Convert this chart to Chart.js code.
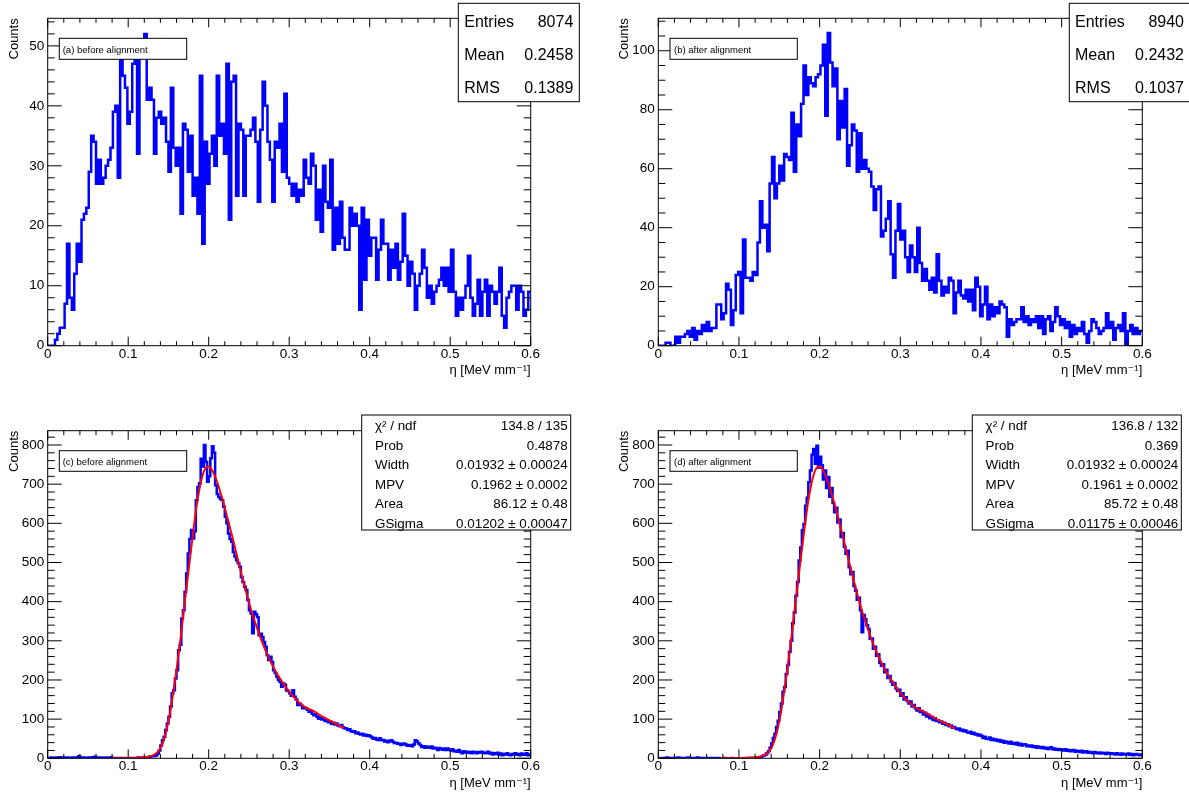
<!DOCTYPE html>
<html>
<head>
<meta charset="utf-8">
<script src="https://cdn.jsdelivr.net/npm/chart.js@4.4.1/dist/chart.umd.min.js"></script>
<style>
html,body{margin:0;padding:0;background:#fff;}
#wrap{position:relative;width:1189px;height:792px;overflow:hidden;background:#fff;}
#wrap canvas{position:absolute;}
</style>
</head>
<body>
<div id="wrap">
<canvas id="cA" width="594" height="396" style="left:0px;top:0px"></canvas>
<canvas id="cB" width="595" height="396" style="left:594px;top:0px"></canvas>
<canvas id="cC" width="594" height="396" style="left:0px;top:396px"></canvas>
<canvas id="cD" width="595" height="396" style="left:594px;top:396px"></canvas>
</div>
<script>
// ---------------- data ----------------
const X_MIN = 0, X_MAX = 0.6;
const BIN_AB = 0.003;   // 200 bins
const BIN_CD = 0.002;   // 300 bins
const xTitle = 'η [MeV mm⁻¹]';
const yTitle = 'Counts';

const countsA = [
  0,0,0,1,2,3,3,7,17,8,
  6,12,17,14,21,22,23,29,35,34,
  27,31,27,28,30,31,33,39,40,28,
  49,45,43,37,39,47,48,32,48,50,
  52,41,43,41,32,38,39,37,38,34,
  29,43,33,30,33,22,37,36,29,35,
  25,28,22,45,17,34,27,32,35,30,
  45,35,37,32,47,21,44,45,25,37,
  36,25,35,35,36,38,34,24,36,44,
  40,34,31,24,34,33,37,29,42,28,
  27,25,27,24,26,25,31,28,27,32,
  30,21,26,19,30,24,23,31,16,23,
  17,24,18,16,16,23,20,22,20,6,
  23,11,21,15,18,18,11,16,21,17,
  17,11,16,13,17,11,14,22,15,10,
  14,12,6,10,12,16,13,8,10,7,
  9,10,11,13,10,13,9,16,9,5,
  8,6,8,10,15,8,5,7,11,5,
  9,11,5,10,9,7,9,13,5,3,
  8,9,10,10,6,10,9,5,6,9
];

const countsB = [
  0,0,0,1,1,0,0,3,1,3,
  3,4,5,3,6,2,5,4,7,5,
  8,5,6,6,14,14,9,11,21,19,
  7,12,24,25,11,36,23,23,22,25,
  24,35,49,40,41,32,55,64,50,55,
  61,56,65,64,63,79,59,75,71,82,
  95,85,91,89,88,91,92,95,102,78,
  106,96,88,94,70,83,74,87,61,68,
  75,73,59,72,60,63,60,59,54,46,
  53,54,37,39,43,49,31,23,39,48,
  36,39,30,25,34,30,25,40,28,22,
  26,22,19,23,18,31,22,17,20,18,
  23,22,11,18,22,17,16,19,15,19,
  12,23,20,10,14,20,9,14,10,13,
  11,15,14,13,3,9,7,8,9,9,
  13,8,10,7,9,8,10,6,10,4,
  9,10,5,8,13,10,7,9,6,8,
  3,7,4,6,5,8,4,1,5,9,
  8,6,4,5,6,11,6,8,2,6,
  7,5,11,0,5,7,4,6,4,5
];

const countsC = [
  0,1,2,1,1,2,1,3,2,1,
  2,1,2,1,1,2,1,2,1,5,
  2,1,2,1,1,2,1,2,3,4,
  1,2,1,2,1,1,2,1,1,3,
  1,1,0,1,0,1,1,0,1,1,
  0,1,1,0,1,1,2,1,1,2,
  2,3,2,4,5,5,6,7,12,20,
  33,46,55,72,89,106,132,166,174,204,
  225,276,290,357,378,425,472,523,560,583,
  561,580,659,693,702,765,745,800,757,706,
  720,766,797,780,697,675,667,662,659,642,
  617,600,574,560,553,527,515,506,498,489,
  463,450,438,430,404,378,370,319,374,368,
  361,314,318,310,297,285,263,251,259,246,
  225,218,208,200,195,183,191,188,174,172,
  166,160,174,157,150,136,140,136,128,130,
  128,124,119,121,114,110,112,106,101,104,
  99,103,95,97,92,94,88,91,86,89,
  84,82,85,79,77,76,72,74,70,68,
  69,64,66,63,61,63,58,60,57,59,
  56,53,50,52,48,47,51,46,47,43,
  45,41,44,46,42,39,40,37,38,34,
  36,38,35,32,34,33,31,35,46,43,
  38,34,29,31,27,30,28,27,30,25,
  27,25,21,26,24,22,25,21,25,22,
  20,23,18,19,17,21,16,13,18,15,
  17,14,16,13,17,15,13,16,14,17,
  15,13,14,17,12,14,10,13,11,14,
  9,12,8,11,10,13,9,8,11,10,
  13,9,11,8,12,10,9,13,8,10
];

const countsD = [
  0,0,1,0,1,2,0,1,0,1,
  0,1,2,1,0,1,0,1,2,0,
  1,0,1,0,2,1,0,1,0,1,
  0,0,1,0,1,0,0,1,0,0,
  0,1,0,0,0,1,0,0,0,0,
  0,0,0,0,0,1,0,0,1,1,
  1,2,3,3,5,7,9,13,18,27,
  38,52,63,80,96,118,140,170,182,215,
  238,272,300,345,372,415,450,505,538,582,
  598,645,665,705,735,775,790,752,798,742,
  770,748,712,735,690,718,668,690,652,628,
  640,602,610,565,575,540,522,530,488,470,
  476,440,428,405,410,378,322,366,355,340,
  330,305,306,280,285,262,266,244,236,240,
  220,226,205,210,196,188,192,178,172,175,
  160,166,150,156,146,140,145,132,136,128,
  122,128,118,121,112,116,107,111,102,106,
  98,102,95,97,92,94,88,91,85,87,
  82,84,78,80,76,74,76,71,73,69,
  71,67,65,68,63,65,61,62,58,60,
  57,52,55,50,49,53,47,50,46,48,
  44,47,42,45,40,43,41,38,42,37,
  39,36,40,34,37,33,35,36,31,33,
  30,33,29,31,27,30,28,26,29,25,
  27,24,26,28,23,25,22,24,21,23,
  22,20,23,19,21,18,20,21,17,19,
  18,16,19,15,17,18,14,16,15,13,
  16,14,13,15,12,14,13,11,14,12,
  13,11,12,10,13,11,9,12,10,11,
  10,12,9,11,8,10,11,9,8,10
];

// fitted curves
const fitEtaC = [0.0775,0.09,0.1,0.11,0.12,0.125,0.13,0.135,0.14,0.145,0.15,0.155,0.16,0.165,0.17,0.175,0.18,0.185,0.19,0.195,0.2,0.205,0.21,0.215,0.22,0.225,0.23,0.235,0.24,0.245,0.25,0.255,0.26,0.265,0.27,0.275,0.28,0.285,0.29,0.3,0.31,0.32,0.33,0.34,0.35,0.36,0.368];
const fitValC = [0,0.2,0.5,1.2,2.5,4,7,13,26,52,95,155,225,305,395,480,565,645,703,737,745,733,708,676,640,600,560,518,476,436,398,364,333,304,278,255,234,215,199,170,147,130,121,108,97,86,77];
const fitEtaD = [0.0775,0.09,0.1,0.11,0.12,0.125,0.13,0.135,0.14,0.145,0.15,0.155,0.16,0.165,0.17,0.175,0.18,0.185,0.19,0.195,0.2,0.205,0.21,0.215,0.22,0.225,0.23,0.235,0.24,0.245,0.25,0.255,0.26,0.265,0.27,0.275,0.28,0.285,0.29,0.3,0.31,0.32,0.33,0.34,0.35,0.36,0.368];
const fitValD = [0,0.2,0.5,1.1,2.4,4,7,13,26,52,95,156,227,307,397,482,566,645,703,737,745,732,707,674,637,597,556,514,472,432,394,360,329,300,274,251,230,212,196,167,145,128,118,106,95,85,76];

const statsA = {labels:['Entries','Mean','RMS'], values:['8074','0.2458','0.1389']};
const statsB = {labels:['Entries','Mean','RMS'], values:['8940','0.2432','0.1037']};
const fitStatsC = {labels:['χ² / ndf','Prob','Width','MPV','Area','GSigma'],
  values:['134.8 / 135','0.4878','0.01932 ± 0.00024','0.1962 ± 0.0002','86.12 ± 0.48','0.01202 ± 0.00047']};
const fitStatsD = {labels:['χ² / ndf','Prob','Width','MPV','Area','GSigma'],
  values:['136.8 / 132','0.369','0.01932 ± 0.00024','0.1961 ± 0.0002','85.72 ± 0.48','0.01175 ± 0.00046']};
const panelLabels = ['(a) before alignment','(b) after alignment','(c) before alignment','(d) after alignment'];

// ---------------- layout ----------------
const FONT = '"Liberation Sans", "DejaVu Sans", Arial, sans-serif';
const Y_AXIS_W = 47.7;
const X_AXIS_H = 33.5;

const panels = [
  {id:'cA', W:594, H:396, area:{l:47.7,t:18.3,r:530.7,b:345.7}, yMax:54.6, yMajor:10, yMinor:2,
   counts:countsA, bin:BIN_AB, label:panelLabels[0], labelBox:{x:59.3,y:38.3,w:127.4,h:21,tx:62.7,ty:53.3},
   stats:statsA, statsBox:{x:458.3,y:3.3,w:121,h:98.4,lx:464.3,rx:573.3,base:[26.7,59.6,93.1],size:16}},
  {id:'cB', W:595, H:396, area:{l:64.3,t:18.3,r:548.3,b:345.7}, yMax:111, yMajor:20, yMinor:5,
   counts:countsB, bin:BIN_AB, label:panelLabels[1], labelBox:{x:76,y:38.3,w:127.3,h:21,tx:80,ty:53.3},
   stats:statsB, statsBox:{x:475.3,y:3.3,w:121,h:98.4,lx:481,rx:590,base:[26.7,59.6,93.1],size:16}},
  {id:'cC', W:594, H:396, area:{l:47.7,t:34.7,r:530.7,b:362.3}, yMax:836.5, yMajor:100, yMinor:20,
   counts:countsC, bin:BIN_CD, label:panelLabels[2], labelBox:{x:59.3,y:54.7,w:127.4,h:20.6,tx:62.7,ty:69},
   fitEta:fitEtaC, fitVal:fitValC,
   stats:fitStatsC, statsBox:{x:361.7,y:19,w:209,h:115,lx:375,rx:567.7,base:[34,54,73.3,93,112.3,131.7],size:13.4}},
  {id:'cD', W:595, H:396, area:{l:64.3,t:34.7,r:548.3,b:362.3}, yMax:836.5, yMajor:100, yMinor:20,
   counts:countsD, bin:BIN_CD, label:panelLabels[3], labelBox:{x:76,y:54.7,w:127.3,h:20.6,tx:80,ty:69},
   fitEta:fitEtaD, fitVal:fitValD,
   stats:fitStatsD, statsBox:{x:378.3,y:19,w:209,h:115,lx:391.6,rx:584.3,base:[34,54,73.3,93,112.3,131.7],size:13.4}}
];

function histPoints(counts, width) {
  const pts = counts.map((v, i) => ({x: i * width, y: v}));
  pts.push({x: counts.length * width, y: counts[counts.length - 1]});
  return pts;
}

function makeDecor(p) {
  return {
    id: 'rootDecor',
    afterDraw(chart) {
      const ctx = chart.ctx;
      const {left, top, right, bottom} = chart.chartArea;
      const xs = chart.scales.x, ys = chart.scales.y;
      ctx.save();
      ctx.strokeStyle = '#000';
      ctx.lineWidth = 1;
      ctx.beginPath();
      for (let i = 0; i <= 30; i++) {
        const px = xs.getPixelForValue(i * 0.02);
        const major = i % 5 === 0;
        const lb = major ? 9 : 4.5;
        ctx.moveTo(px, bottom); ctx.lineTo(px, bottom - lb);
        ctx.moveTo(px, top); ctx.lineTo(px, top + lb);
      }
      const nMinor = Math.floor(p.yMax / p.yMinor + 1e-9);
      const ratio = Math.round(p.yMajor / p.yMinor);
      for (let i = 0; i <= nMinor; i++) {
        const py = ys.getPixelForValue(i * p.yMinor);
        const len = (i % ratio === 0) ? 14 : 7;
        ctx.moveTo(left, py); ctx.lineTo(left + len, py);
        ctx.moveTo(right, py); ctx.lineTo(right - len, py);
      }
      ctx.stroke();
      ctx.strokeRect(left, top, right - left, bottom - top);

      // panel label box
      const lb = p.labelBox;
      ctx.fillStyle = '#fff';
      ctx.fillRect(lb.x, lb.y, lb.w, lb.h);
      ctx.strokeRect(lb.x, lb.y, lb.w, lb.h);
      ctx.fillStyle = '#000';
      ctx.font = '9.5px ' + FONT;
      ctx.textAlign = 'left';
      ctx.textBaseline = 'alphabetic';
      ctx.fillText(p.label, lb.tx, lb.ty);

      // statistics / fit box
      const sb = p.statsBox;
      ctx.fillStyle = '#fff';
      ctx.fillRect(sb.x, sb.y, sb.w, sb.h);
      ctx.strokeRect(sb.x, sb.y, sb.w, sb.h);
      ctx.fillStyle = '#000';
      ctx.font = sb.size + 'px ' + FONT;
      p.stats.labels.forEach((t, i) => {
        ctx.textAlign = 'left';
        ctx.fillText(t, sb.lx, sb.base[i]);
        ctx.textAlign = 'right';
        ctx.fillText(p.stats.values[i], sb.rx, sb.base[i]);
      });
      ctx.restore();
    }
  };
}

Chart.defaults.font.family = FONT;

panels.forEach(p => {
  const datasets = [{
    data: histPoints(p.counts, p.bin),
    borderColor: '#0000ff',
    borderWidth: 2.5,
    stepped: 'before',
    pointRadius: 0,
    fill: false,
    order: 2
  }];
  if (p.fitEta) {
    datasets.push({
      data: p.fitEta.map((e, i) => ({x: e, y: p.fitVal[i]})),
      borderColor: '#ff0000',
      borderWidth: 2,
      pointRadius: 0,
      fill: false,
      cubicInterpolationMode: 'monotone',
      order: 1
    });
  }
  new Chart(document.getElementById(p.id), {
    type: 'line',
    data: {datasets},
    options: {
      responsive: false,
      animation: false,
      devicePixelRatio: 1,
      events: [],
      layout: {padding: {left: p.area.l - Y_AXIS_W, top: p.area.t, right: p.W - p.area.r, bottom: p.H - p.area.b - X_AXIS_H}},
      plugins: {legend: {display: false}, tooltip: {enabled: false}},
      scales: {
        x: {
          type: 'linear', min: X_MIN, max: X_MAX,
          grid: {display: false, drawTicks: false},
          border: {display: false},
          ticks: {stepSize: 0.1, autoSkip: false, maxRotation: 0, includeBounds: false, padding: 0, color: '#000',
                  font: {size: 13.5, lineHeight: 1.2},
                  callback: v => (Math.abs(v) < 1e-9 ? '0' : (Math.round(v * 10) / 10).toString())},
          title: {display: true, text: xTitle, align: 'end', color: '#000', font: {size: 13, lineHeight: 1.2},
                  padding: {top: 0, bottom: 0.7}},
          afterFit: s => { s.height = X_AXIS_H; }
        },
        y: {
          type: 'linear', min: 0, max: p.yMax,
          grid: {display: false, drawTicks: false},
          border: {display: false},
          ticks: {stepSize: p.yMajor, includeBounds: false, padding: 3.5, color: '#000',
                  font: {size: 13.5, lineHeight: 1.2},
                  callback: v => String(Math.round(v))},
          title: {display: true, text: yTitle, align: 'end', color: '#000', font: {size: 13, lineHeight: 1.2},
                  padding: {top: 6.4, bottom: 0}},
          afterFit: s => { s.width = Y_AXIS_W; }
        }
      }
    },
    plugins: [makeDecor(p)]
  });
});
</script>
</body>
</html>
